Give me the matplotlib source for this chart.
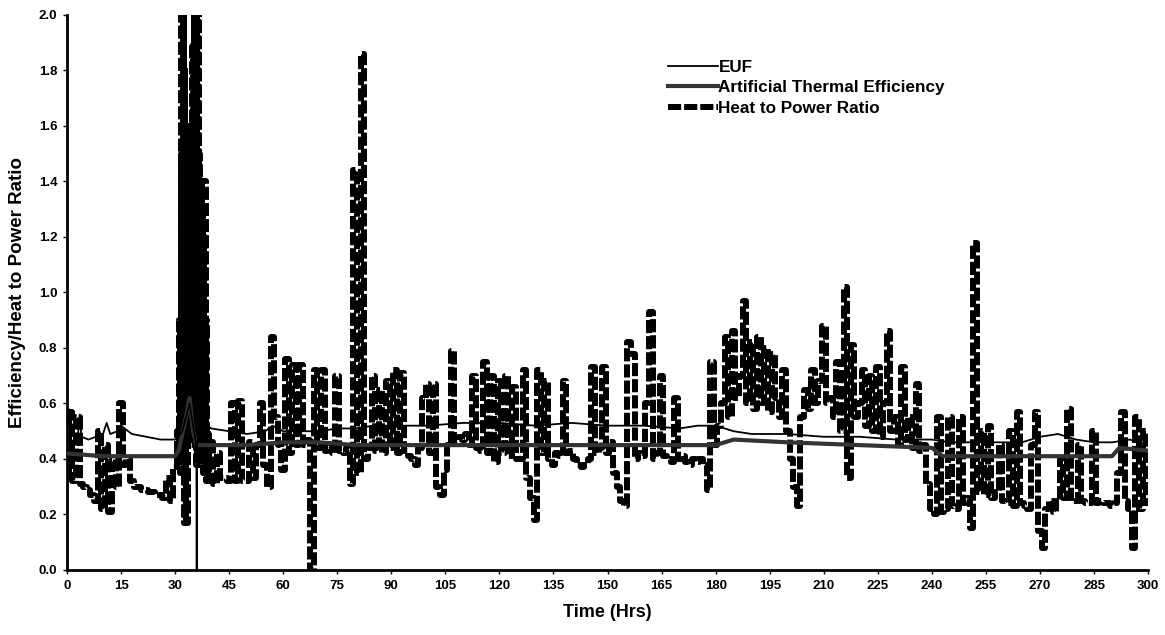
import numpy as np
import matplotlib
matplotlib.use("Agg")
import matplotlib.pyplot as plt

# ---------------- data ----------------
x_ticks = list(range(0, 301, 15))
y_ticks = [0.0, 0.2, 0.4, 0.6, 0.8, 1.0, 1.2, 1.4, 1.6, 1.8, 2.0]

# Heat to power ratio, hourly samples 0..300 h
heat_to_power = [
    0.34, 0.57, 0.32, 0.55, 0.31, 0.30, 0.29, 0.27, 0.25, 0.50,   # 0-9
    0.22, 0.45, 0.21, 0.40, 0.30, 0.60, 0.38, 0.40, 0.32, 0.30,   # 10-19
    0.30, 0.29, 0.29, 0.28, 0.28, 0.27, 0.27, 0.26, 0.33, 0.25,   # 20-29
    0.37, 0.50, 2.00, 0.17, 1.60, 0.55, 2.00, 0.38, 1.40, 0.32,   # 30-39
    0.46, 0.31, 0.42, 0.33, 0.33, 0.32, 0.60, 0.32, 0.61, 0.32,   # 40-49
    0.32, 0.46, 0.33, 0.45, 0.60, 0.38, 0.30, 0.84, 0.55, 0.45,   # 50-59
    0.36, 0.76, 0.42, 0.74, 0.45, 0.74, 0.45, 0.47, 0.00, 0.72,   # 60-69
    0.44, 0.72, 0.43, 0.45, 0.42, 0.70, 0.43, 0.42, 0.44, 0.31,   # 70-79
    1.44, 0.35, 1.86, 0.40, 0.44, 0.70, 0.43, 0.65, 0.42, 0.68,   # 80-89
    0.44, 0.72, 0.42, 0.71, 0.43, 0.41, 0.40, 0.38, 0.44, 0.62,   # 90-99
    0.67, 0.42, 0.67, 0.30, 0.27, 0.36, 0.45, 0.79, 0.46, 0.48,   # 100-109
    0.47, 0.49, 0.45, 0.70, 0.44, 0.43, 0.75, 0.42, 0.70, 0.39,   # 110-119
    0.68, 0.42, 0.70, 0.41, 0.66, 0.40, 0.40, 0.72, 0.33, 0.26,   # 120-129
    0.18, 0.72, 0.42, 0.68, 0.40, 0.38, 0.42, 0.41, 0.68, 0.42,   # 130-139
    0.43, 0.40, 0.38, 0.37, 0.38, 0.40, 0.73, 0.42, 0.44, 0.73,   # 140-149
    0.42, 0.46, 0.35, 0.30, 0.25, 0.23, 0.82, 0.78, 0.40, 0.42,   # 150-159
    0.41, 0.60, 0.93, 0.40, 0.42, 0.70, 0.41, 0.40, 0.39, 0.62,   # 160-169
    0.40, 0.41, 0.39, 0.38, 0.40, 0.39, 0.40, 0.38, 0.29, 0.75,   # 170-179
    0.45, 0.52, 0.60, 0.84, 0.55, 0.86, 0.62, 0.70, 0.97, 0.60,   # 180-189
    0.82, 0.58, 0.84, 0.60, 0.80, 0.57, 0.78, 0.62, 0.55, 0.72,   # 190-199
    0.50, 0.40, 0.30, 0.23, 0.55, 0.65, 0.58, 0.72, 0.60, 0.68,   # 200-209
    0.88, 0.60, 0.62, 0.55, 0.75, 0.50, 1.02, 0.33, 0.81, 0.55,   # 210-219
    0.60, 0.72, 0.52, 0.70, 0.50, 0.73, 0.48, 0.60, 0.86, 0.50,   # 220-229
    0.55, 0.45, 0.73, 0.47, 0.55, 0.44, 0.67, 0.43, 0.45, 0.31,   # 230-239
    0.22, 0.20, 0.55, 0.21, 0.22, 0.55, 0.23, 0.22, 0.55, 0.24,   # 240-249
    0.26, 0.15, 1.18, 0.28, 0.50, 0.27, 0.52, 0.26, 0.28, 0.45,   # 250-259
    0.25, 0.24, 0.50, 0.23, 0.57, 0.24, 0.23, 0.22, 0.45, 0.57,   # 260-269
    0.14, 0.08, 0.22, 0.25, 0.21, 0.25, 0.40, 0.26, 0.58, 0.25,   # 270-279
    0.25, 0.45, 0.25, 0.24, 0.24, 0.50, 0.24, 0.25, 0.24, 0.24,   # 280-289
    0.23, 0.24, 0.35, 0.57, 0.25, 0.22, 0.08, 0.55, 0.22, 0.50,   # 290-299
    0.24,                                                         # 300
]

# dense burst around 31-39 h (quarter-hour samples)
burst_time = [31.0, 31.25, 31.5, 31.75, 32.0, 32.25, 32.5, 32.75, 33.0, 33.25,
              33.5, 33.75, 34.0, 34.25, 34.5, 34.75, 35.0, 35.25, 35.5, 35.75,
              36.0, 36.25, 36.5, 36.75, 37.0, 37.25, 37.5, 37.75, 38.0, 38.25,
              38.5, 38.75, 39.0, 39.25, 39.5]
burst_hpr = [0.45, 0.90, 0.35, 1.50, 0.50, 2.00, 0.40, 1.80, 0.17, 1.20,
             0.60, 0.90, 0.50, 1.30, 0.45, 1.90, 0.55, 2.00, 0.70, 1.70,
             0.38, 2.00, 0.60, 1.50, 0.40, 1.40, 0.50, 1.30, 0.35, 1.20,
             0.60, 0.90, 0.32, 0.50, 0.40]

# EUF
euf_time = [0, 0.5, 1, 2, 3, 3.5, 4, 6, 8, 10, 11, 12, 14, 15, 16, 18, 22, 26, 30,
            31, 32, 33, 34, 35, 35.9, 36.0, 36.1, 37, 38, 40, 45, 50, 55, 57, 60,
            65, 70, 75, 80, 85, 90, 100, 110, 120, 130, 140, 150, 160, 170, 175,
            180, 185, 190, 195, 200, 210, 220, 230, 240, 245, 250, 260, 265, 270,
            275, 280, 285, 290, 295, 300]
euf = [0.49, 0.58, 0.49, 0.48, 0.48, 0.56, 0.48, 0.47, 0.48, 0.49, 0.53, 0.49, 0.50, 0.52,
       0.51, 0.49, 0.48, 0.47, 0.47,
       0.48, 0.50, 0.55, 0.60, 0.52, 0.45, 0.00, 0.45, 0.52, 0.53, 0.51, 0.50, 0.49, 0.50,
       0.52, 0.50,
       0.50, 0.50, 0.51, 0.51, 0.52, 0.52, 0.52, 0.53, 0.53, 0.52, 0.53, 0.52, 0.52, 0.51,
       0.52,
       0.52, 0.50, 0.49, 0.49, 0.49, 0.48, 0.48, 0.47, 0.47, 0.46, 0.46, 0.46, 0.46, 0.48,
       0.49, 0.47, 0.46, 0.46, 0.47, 0.45]

# Artificial thermal efficiency
ate_time = [0, 10, 20, 30, 31, 33, 34, 35, 36, 38, 40, 50, 60, 70, 80, 90, 120, 150,
            180, 185, 200, 220, 240, 243, 290, 292, 300]
ate = [0.42, 0.41, 0.41, 0.41, 0.43, 0.55, 0.62, 0.50, 0.45, 0.45, 0.45, 0.45, 0.46,
       0.46, 0.45, 0.45, 0.45, 0.45, 0.45, 0.47, 0.46, 0.45, 0.44, 0.41, 0.41, 0.44, 0.43]

# ---------------- plot ----------------
plt.rcParams['font.family'] = ['Liberation Sans', 'DejaVu Sans']
plt.rcParams['font.weight'] = 'bold'

fig = plt.figure(figsize=(11.65, 6.35), dpi=100)
ax = fig.add_axes([0.0575, 0.1024, 0.928, 0.874])

dash = (0, (2.2, 0.5))
hours = np.arange(len(heat_to_power))
l_hpr, = ax.plot(hours, heat_to_power, color='black', lw=4.3, linestyle=dash,
                 drawstyle='steps-mid', dash_capstyle='butt', zorder=2,
                 label='Heat to Power Ratio')
ax.plot(burst_time, burst_hpr, color='black', lw=4.3, linestyle=dash,
        drawstyle='steps-mid', dash_capstyle='butt', zorder=2)
l_ate, = ax.plot(ate_time, ate, color='#333333', lw=3.0, zorder=3,
                 label='Artificial Thermal Efficiency')
l_euf, = ax.plot(euf_time, euf, color='black', lw=1.3, zorder=4, label='EUF')

ax.set_xlim(0, 300)
ax.set_ylim(0, 2.0)
ax.set_xticks(x_ticks)
ax.set_yticks(y_ticks)
ax.set_xticklabels([str(t) for t in x_ticks])
ax.set_yticklabels(['%.1f' % t for t in y_ticks])
ax.tick_params(axis='both', direction='out', length=3, width=1, labelsize=9.5, pad=4)
for lab in ax.get_xticklabels() + ax.get_yticklabels():
    lab.set_fontweight('bold')

for s in ['top', 'right']:
    ax.spines[s].set_visible(False)
for s in ['left', 'bottom']:
    ax.spines[s].set_linewidth(2.0)

ax.set_xlabel('Time (Hrs)', fontsize=13, fontweight='bold', labelpad=9)
ax.set_ylabel('Efficiency/Heat to Power Ratio', fontsize=13.5, fontweight='bold', labelpad=9)

leg = fig.legend(handles=[l_euf, l_ate, l_hpr], loc='upper left',
                 bbox_to_anchor=(0.5734, 0.905), frameon=False, fontsize=12.3,
                 handlelength=2.9, handletextpad=0.05, labelspacing=0.3,
                 borderpad=0, borderaxespad=0)
for t in leg.get_texts():
    t.set_fontweight('bold')

fig.savefig('out.png', dpi=100)
